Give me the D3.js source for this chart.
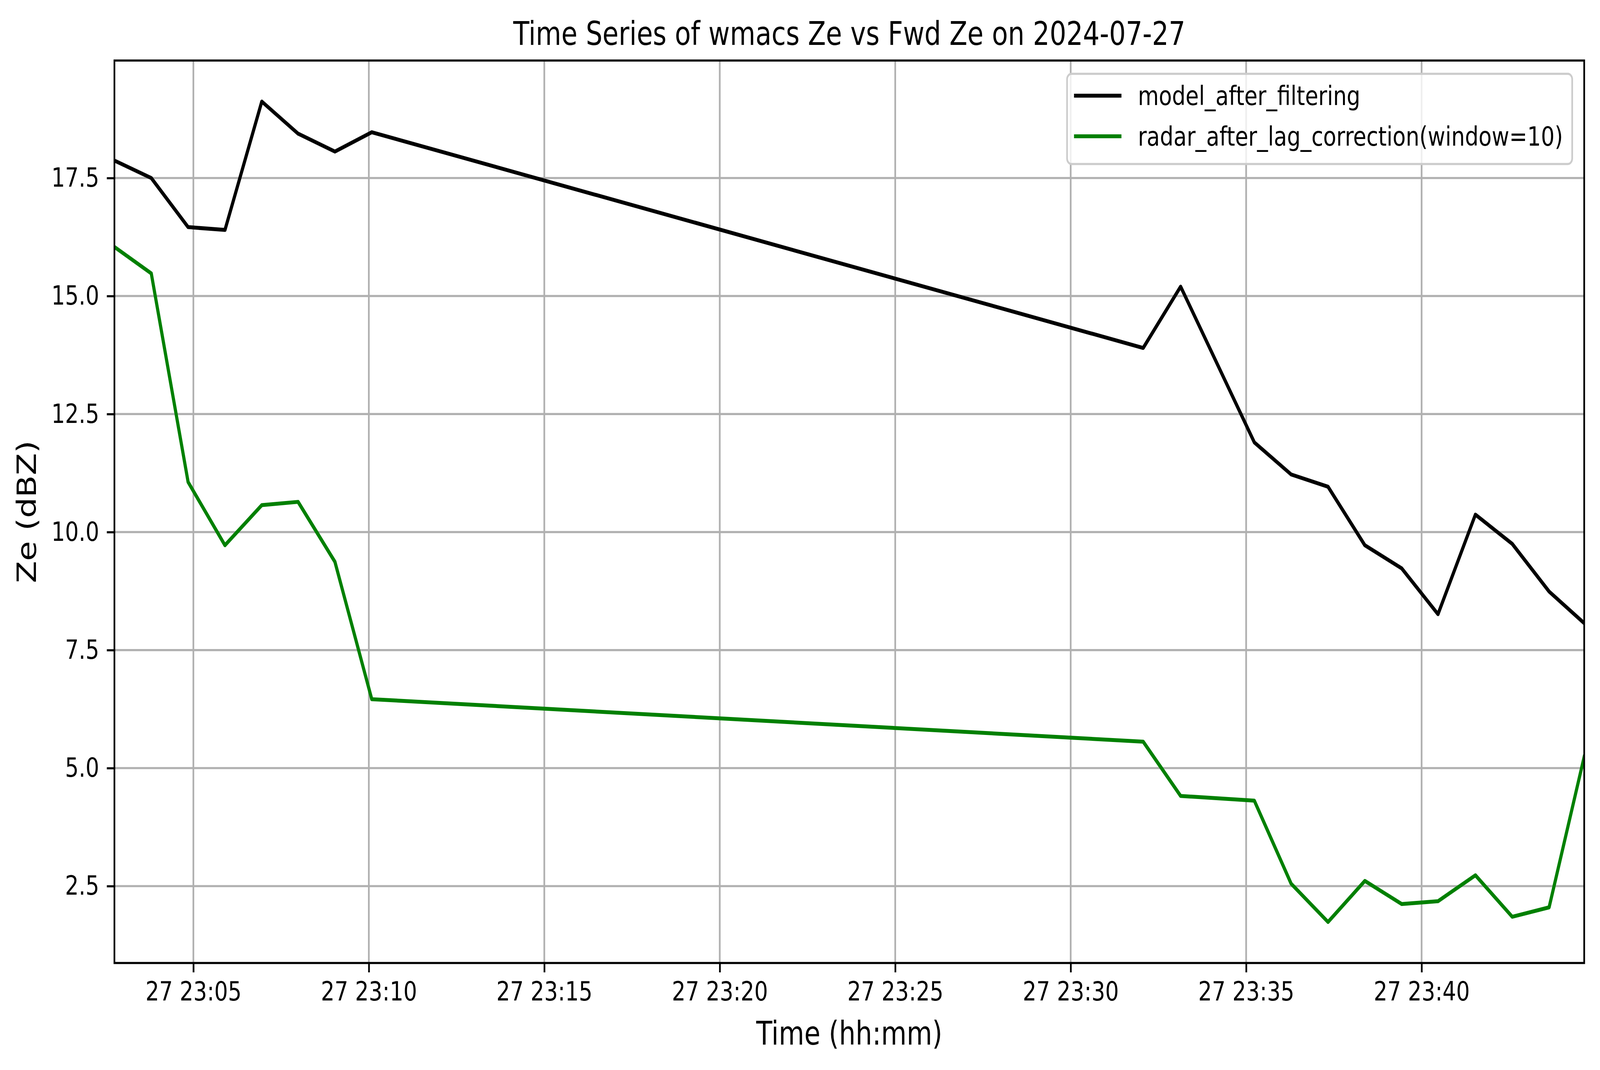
<!DOCTYPE html>
<html>
<head>
<meta charset="utf-8">
<script src="https://cdn.jsdelivr.net/npm/d3@7"></script>
<style>
  html, body { margin: 0; padding: 0; background: #fff; overflow: hidden; }
  svg { display: block; width: 100vw; height: 100vh; }
  text { font-family: 'DejaVu Sans', sans-serif; fill: #000; }
</style>
</head>
<body>
<svg id="chart"></svg>
<script>
// values, 2024-07-27
const times = ['23:02:45', '23:03:48', '23:04:51', '23:05:54', '23:06:57', '23:07:59', '23:09:02', '23:10:05',
  '23:32:04', '23:33:08', '23:35:14', '23:36:17', '23:37:20', '23:38:23', '23:39:26', '23:40:28',
  '23:41:32', '23:42:35', '23:43:38', '23:44:38'];
const modelZe = [17.87, 17.5, 16.46, 16.4, 19.12, 18.44, 18.06, 18.47,
  13.9, 15.2, 11.9, 11.22, 10.96, 9.72, 9.23, 8.26, 10.37, 9.75, 8.74, 8.07];
const radarZe = [16.04, 15.48, 11.06, 9.72, 10.57, 10.64, 9.37, 6.46,
  5.56, 4.41, 4.31, 2.55, 1.74, 2.61, 2.12, 2.18, 2.73, 1.85, 2.05, 5.24];
const seriesNames = ['model_after_filtering', 'radar_after_lag_correction(window=10)'];
const seriesColors = ['#000000', '#008000'];
const yTicks = [2.5, 5.0, 7.5, 10.0, 12.5, 15.0, 17.5];

const width = 5062;
const height = 2740;
const margin = { top: 155, right: 50, bottom: 274, left: 362 };
const innerW = width - margin.left - margin.right;
const innerH = height - margin.top - margin.bottom;

const tickFont = 68;
const labelFont = 83;

const dates = times.map((t) => new Date(`2024-07-27T${t}`));
const series = [modelZe, radarZe].map((vals, k) => ({
  name: seriesNames[k],
  color: seriesColors[k],
  points: vals.map((v, i) => ({ t: dates[i], v })),
}));

// the window is narrower than 5062, so stretch the 5062x2740 drawing over it
const svg = d3
  .select('#chart')
  .attr('viewBox', `0 0 ${width} ${height}`)
  .attr('preserveAspectRatio', 'none');
const g = svg.append('g').attr('transform', `translate(${margin.left},${margin.top})`);

const x = d3.scaleTime().domain(d3.extent(dates)).range([0, innerW]);

// matplotlib style 5% padding on y
const allVals = modelZe.concat(radarZe);
const [lo, hi] = d3.extent(allVals);
const pad = (hi - lo) * 0.05;
const y = d3.scaleLinear().domain([lo - pad, hi + pad]).range([innerH, 0]);

const xTicks = x.ticks(d3.timeMinute.every(5));

// grid
g.append('g')
  .selectAll('line')
  .data(xTicks)
  .join('line')
  .attr('x1', (d) => x(d))
  .attr('x2', (d) => x(d))
  .attr('y1', 0)
  .attr('y2', innerH)
  .attr('stroke', '#b0b0b0')
  .attr('stroke-width', 5.4);

g.append('g')
  .selectAll('line')
  .data(yTicks)
  .join('line')
  .attr('x1', 0)
  .attr('x2', innerW)
  .attr('y1', (d) => y(d))
  .attr('y2', (d) => y(d))
  .attr('stroke', '#b0b0b0')
  .attr('stroke-width', 5.4);

// lines
const line = d3
  .line()
  .x((d) => x(d.t))
  .y((d) => y(d.v));

g.append('defs')
  .append('clipPath')
  .attr('id', 'clip')
  .append('rect')
  .attr('width', innerW)
  .attr('height', innerH);

g.append('g')
  .attr('clip-path', 'url(#clip)')
  .selectAll('path')
  .data(series)
  .join('path')
  .attr('d', (d) => line(d.points))
  .attr('fill', 'none')
  .attr('stroke', (d) => d.color)
  .attr('stroke-width', 10)
  .attr('stroke-linejoin', 'round')
  .attr('stroke-linecap', 'square');

// axes
const xAxis = g
  .append('g')
  .attr('transform', `translate(0,${innerH})`)
  .call(
    d3.axisBottom(x)
      .tickValues(xTicks)
      .tickFormat(d3.timeFormat('%d %H:%M'))
      .tickSize(24)
      .tickPadding(24)
  );

const yAxis = g.append('g').call(
  d3.axisLeft(y)
    .tickValues(yTicks)
    .tickFormat(d3.format('.1f'))
    .tickSize(24)
    .tickPadding(24)
);

[xAxis, yAxis].forEach((ax) => {
  ax.select('.domain').remove();
  ax.selectAll('.tick line').attr('stroke', '#000').attr('stroke-width', 5.4);
  ax.selectAll('.tick text').attr('font-size', tickFont).attr('font-family', 'DejaVu Sans');
});
xAxis.selectAll('.tick text').attr('dy', '0.71em');

// frame
g.append('rect')
  .attr('width', innerW)
  .attr('height', innerH)
  .attr('fill', 'none')
  .attr('stroke', '#000')
  .attr('stroke-width', 5.4);

// labels
svg
  .append('text')
  .attr('x', margin.left + innerW / 2)
  .attr('y', 115)
  .attr('text-anchor', 'middle')
  .attr('font-size', labelFont)
  .text('Time Series of wmacs Ze vs Fwd Ze on 2024-07-27');

svg
  .append('text')
  .attr('x', margin.left + innerW / 2)
  .attr('y', 2675)
  .attr('text-anchor', 'middle')
  .attr('font-size', labelFont)
  .text('Time (hh:mm)');

svg
  .append('text')
  .attr('transform', `translate(114,${margin.top + innerH / 2}) rotate(-90)`)
  .attr('text-anchor', 'middle')
  .attr('font-size', labelFont)
  .text('Ze (dBZ)');

// legend, upper right
const legend = g.append('g');
const legendBox = legend
  .append('rect')
  .attr('fill', '#fff')
  .attr('fill-opacity', 0.8)
  .attr('stroke', '#cccccc')
  .attr('stroke-width', 5.4)
  .attr('rx', 14)
  .attr('ry', 14);

const rowH = 104;
const rows = legend
  .selectAll('.legendRow')
  .data(series)
  .join('g')
  .attr('class', 'legendRow')
  .attr('transform', (d, i) => `translate(0,${i * rowH})`);

rows
  .append('line')
  .attr('x1', 22)
  .attr('x2', 172)
  .attr('y1', 0)
  .attr('y2', 0)
  .attr('stroke', (d) => d.color)
  .attr('stroke-width', 10);

rows
  .append('text')
  .attr('x', 224)
  .attr('dy', '0.35em')
  .attr('font-size', tickFont)
  .text((d) => d.name);

const maxTextWidth = d3.max(rows.selectAll('text').nodes(), (node) => node.getBBox().width);
const legendW = 224 + maxTextWidth + 29;
const legendH = 231;
legendBox.attr('width', legendW).attr('height', legendH).attr('y', -56);
legend.attr('transform', `translate(${innerW - 38 - legendW},${34 + 56})`);
</script>
</body>
</html>
